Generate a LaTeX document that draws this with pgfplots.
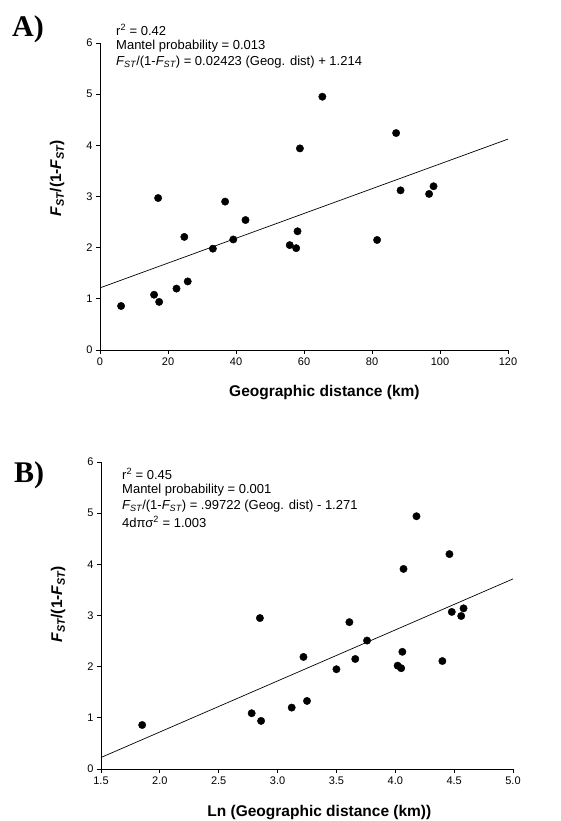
\documentclass[border=0pt]{standalone}
\usepackage{fontspec}
\setmainfont{Liberation Sans}
\newfontfamily\panelfont{Liberation Serif}
\usepackage{pgfplots}
\pgfplotsset{compat=1.18}

\pgfplotsset{
  panel/.style={
    scale only axis,
    axis lines=left,
    axis line style={-, line width=0.8pt},
    tick style={black, line width=0.8pt},
    tick align=outside,
    major tick length=4pt,
    ymin=0, ymax=6, ytick={0,...,6},
    ticklabel style={font=\fontsize{11}{12}\selectfont},
    /pgf/number format/assume math mode=true,
    label style={font=\fontsize{15.5}{17}\selectfont\bfseries},
    ylabel={\itshape F\textsubscript{ST}\upshape/(1-\itshape F\textsubscript{ST}\upshape)},
    clip=false,
  },
  dots/.style={only marks, mark=*, mark size=3.7pt, black},
  fit/.style={no marks, black, line width=0.7pt},
}

\begin{document}
\begin{tikzpicture}
\path[use as bounding box] (0,0) rectangle (560pt,821pt);

% Panel A
\begin{axis}[panel, at={(100pt,471pt)}, anchor=south west,
  width=408pt, height=307pt,
  xmin=0, xmax=120, xtick={0,20,...,120},
  xlabel={Geographic distance (km)},
  xlabel style={at={(axis description cs:0.55,0)}, yshift=-43pt, anchor=center},
  ylabel style={at={(axis description cs:-0.105,0.56)}, anchor=center}]
\addplot[dots] coordinates {
  (6.2,0.86) (15.9,1.08) (17.4,0.94) (17.1,2.97) (22.5,1.20) (24.8,2.21)
  (25.8,1.34) (33.2,1.98) (36.8,2.90) (39.2,2.16) (42.8,2.54) (55.8,2.05)
  (57.7,1.99) (58.1,2.32) (58.8,3.94) (65.4,4.95) (81.5,2.15) (87.1,4.24)
  (88.4,3.12) (96.8,3.05) (98.1,3.20)
};
\addplot[fit] coordinates {(0,1.214) (120,4.1216)};
\end{axis}

% Panel B
\begin{axis}[panel, at={(101pt,52pt)}, anchor=south west,
  width=412pt, height=307pt,
  xmin=1.5, xmax=5, xtick={1.5,2,...,5},
  xticklabel style={/pgf/number format/.cd, fixed, fixed zerofill, precision=1},
  xlabel={Ln (Geographic distance (km))},
  xlabel style={at={(axis description cs:0.53,0)}, yshift=-44pt, anchor=center},
  ylabel style={at={(axis description cs:-0.104,0.537)}, anchor=center}]
\addplot[dots] coordinates {
  (1.85,0.86) (2.78,1.09) (2.86,0.94) (2.85,2.95) (3.12,1.20) (3.22,2.19)
  (3.25,1.33) (3.50,1.95) (3.61,2.87) (3.66,2.15) (3.76,2.51) (4.02,2.02)
  (4.05,1.97) (4.06,2.29) (4.07,3.91) (4.18,4.94) (4.40,2.11) (4.46,4.20)
  (4.48,3.07) (4.56,2.99) (4.58,3.14)
};
\addplot[fit] coordinates {(1.5,0.2248) (5,3.7151)};
\end{axis}

% annotations
\begin{scope}[every node/.style={anchor=west, inner sep=0pt, font=\fontsize{13}{15}\selectfont}]
\node at (116pt,791pt) {r\textsuperscript{2} = 0.42};
\node at (116pt,775pt) {Mantel probability = 0.013};
\node at (116pt,759pt) {\itshape F\textsubscript{ST}\upshape/(1-\itshape F\textsubscript{ST}\upshape) = 0.02423 (Geog. dist) + 1.214};
\node at (122pt,347pt) {r\textsuperscript{2} = 0.45};
\node at (122pt,331pt) {Mantel probability = 0.001};
\node at (122pt,315pt) {\itshape F\textsubscript{ST}\upshape/(1-\itshape F\textsubscript{ST}\upshape) = .99722 (Geog. dist) - 1.271};
\node at (122pt,299pt) {4dπσ\textsuperscript{2} = 1.003};
\end{scope}

\node[font=\panelfont\bfseries\fontsize{30}{32}\selectfont] at (28pt,792pt) {A)};
\node[font=\panelfont\bfseries\fontsize{30}{32}\selectfont] at (29pt,346pt) {B)};
\end{tikzpicture}
\end{document}
